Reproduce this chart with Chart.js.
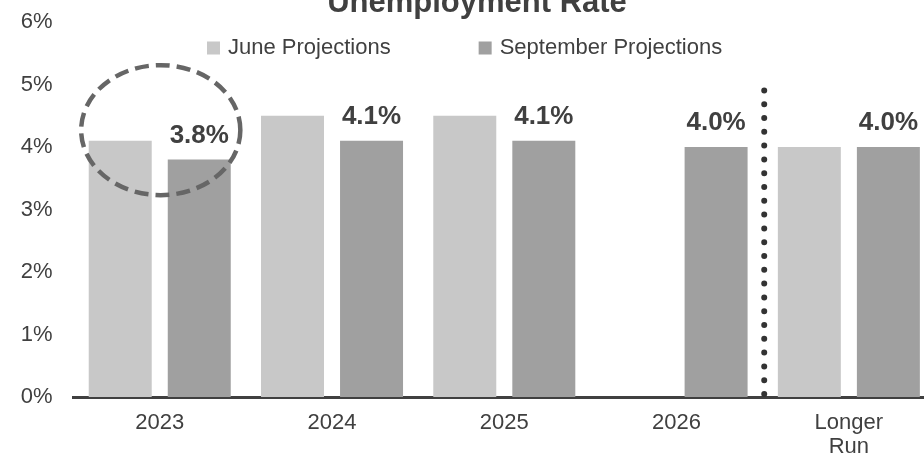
<!DOCTYPE html>
<html>
<head>
<meta charset="utf-8">
<script src="https://cdn.jsdelivr.net/npm/chart.js@4"></script>
<style>
  html, body { margin: 0; padding: 0; background: #fff; width: 924px; height: 463px; overflow: hidden; }
  #wrap { position: relative; width: 935px; height: 463px; }
</style>
</head>
<body>
<div id="wrap"><canvas id="chart"></canvas></div>
<script>
// Unemployment rate projections (percent)
const chartTitle = 'Unemployment Rate';
const categories = ['2023', '2024', '2025', '2026', ['Longer', 'Run']];
const juneLabel = 'June Projections';
const septemberLabel = 'September Projections';
const juneValues = [4.1, 4.5, 4.5, null, 4.0];
const septemberValues = [3.8, 4.1, 4.1, 4.0, 4.0];
const yMin = 0;
const yMax = 6;
const yStep = 1;

const FONT = '"Liberation Sans", Arial, Helvetica, sans-serif';
const TEXT = '#404040';
Chart.defaults.font.family = FONT;
Chart.defaults.color = TEXT;

// Title, legend, highlight ellipse, divider dots and value labels
const decorations = {
  id: 'decorations',
  afterDatasetsDraw(chart) {
    const { ctx, scales: { x, y } } = chart;
    const step = x.getPixelForValue(1) - x.getPixelForValue(0);

    // dashed ellipse around the first year
    ctx.save();
    ctx.strokeStyle = '#666666';
    ctx.lineWidth = 4.5;
    ctx.setLineDash([14, 7]);
    ctx.beginPath();
    ctx.ellipse(x.getPixelForValue(0) + 1, y.getPixelForValue(4.27), step * 0.462, 65, 0, 0, Math.PI * 2);
    ctx.stroke();
    ctx.restore();

    // dotted divider before the longer-run column
    const xd = (x.getPixelForValue(3) + x.getPixelForValue(4)) / 2 + 1.5;
    ctx.save();
    ctx.strokeStyle = '#333333';
    ctx.lineWidth = 6;
    ctx.lineCap = 'round';
    ctx.setLineDash([0, 13.8]);
    ctx.beginPath();
    ctx.moveTo(xd, y.getPixelForValue(0) - 3);
    ctx.lineTo(xd, y.getPixelForValue(4.93));
    ctx.stroke();
    ctx.restore();

    // value labels on the September bars
    const meta = chart.getDatasetMeta(1);
    ctx.save();
    ctx.font = 'bold 26px ' + FONT;
    ctx.fillStyle = TEXT;
    ctx.textAlign = 'center';
    ctx.textBaseline = 'alphabetic';
    meta.data.forEach((bar, i) => {
      const v = chart.data.datasets[1].data[i];
      if (v == null) return;
      ctx.fillText(v.toFixed(1) + '%', bar.x, bar.y - 17);
    });
    ctx.restore();
  },
  afterDraw(chart) {
    const { ctx } = chart;
    ctx.save();
    // title (partly above the top edge)
    ctx.font = 'bold 31px ' + FONT;
    ctx.fillStyle = TEXT;
    ctx.textAlign = 'center';
    ctx.textBaseline = 'alphabetic';
    ctx.fillText(chartTitle, 477, 12);

    // legend
    ctx.font = '22px ' + FONT;
    ctx.textBaseline = 'middle';
    ctx.textAlign = 'left';
    const box = 13, boxGap = 8, itemGap = 88;
    let lx = 207;
    const ly = 48;
    chart.data.datasets.forEach(d => {
      ctx.fillStyle = d.backgroundColor;
      ctx.fillRect(lx, ly - box / 2, box, box);
      ctx.fillStyle = TEXT;
      ctx.fillText(d.label, lx + box + boxGap, ly);
      lx += box + boxGap + ctx.measureText(d.label).width + itemGap;
    });
    ctx.restore();
  }
};

new Chart(document.getElementById('chart'), {
  type: 'bar',
  data: {
    labels: categories,
    datasets: [
      { label: juneLabel, data: juneValues, backgroundColor: '#c8c8c8' },
      { label: septemberLabel, data: septemberValues, backgroundColor: '#a0a0a0' }
    ]
  },
  options: {
    responsive: true,
    maintainAspectRatio: false,
    animation: false,
    events: [],
    layout: { padding: { top: 22, left: 0, right: 0, bottom: 0 } },
    datasets: { bar: { categoryPercentage: 0.9175, barPercentage: 0.797 } },
    plugins: { legend: { display: false }, tooltip: { enabled: false }, title: { display: false } },
    scales: {
      x: {
        grid: { display: false, drawTicks: false },
        border: { display: true, color: '#404040', width: 3 },
        ticks: { color: TEXT, font: { size: 22, lineHeight: 1.1 }, padding: 14, maxRotation: 0, autoSkip: false },
        afterFit(scale) { scale.height = 66; scale.paddingLeft = 0; scale.paddingRight = 0; }
      },
      y: {
        min: yMin,
        max: yMax,
        grid: { display: false, drawTicks: false },
        border: { display: false },
        ticks: { stepSize: yStep, color: TEXT, font: { size: 22 }, padding: 21, callback: v => v + '%' },
        afterFit(scale) { scale.width = 73.6; scale.paddingTop = 0; scale.paddingBottom = 0; }
      }
    }
  },
  plugins: [decorations]
});
</script>
</body>
</html>
